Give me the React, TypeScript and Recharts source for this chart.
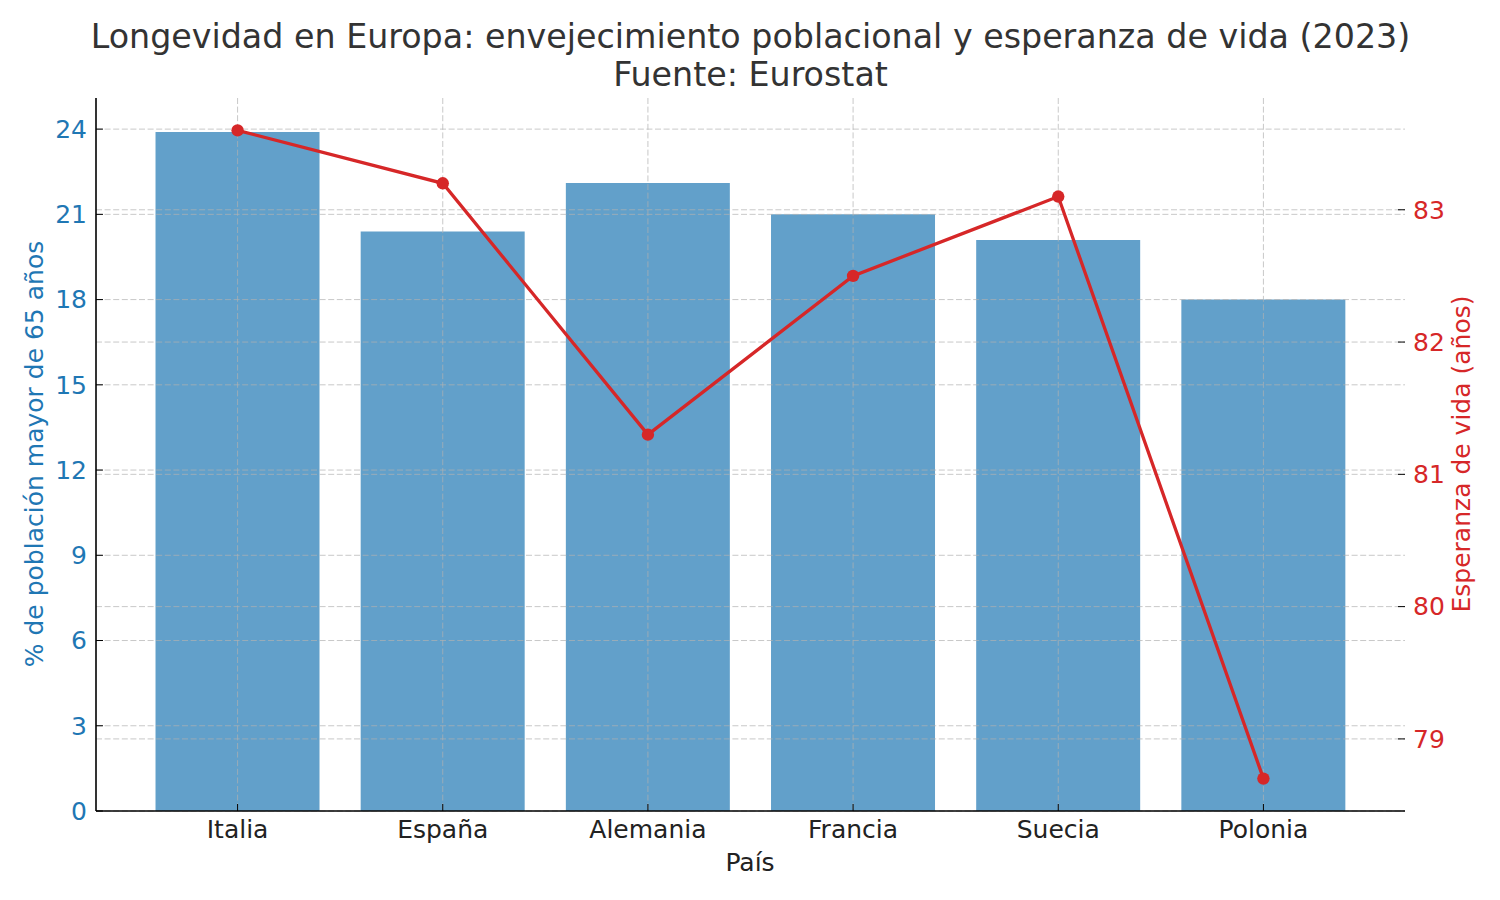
import { ComposedChart, Bar, Line, XAxis, YAxis, CartesianGrid } from 'recharts';

// Eurostat 2023
const countries = ['Italia', 'España', 'Alemania', 'Francia', 'Suecia', 'Polonia'];
const pop65 = [23.9, 20.4, 22.1, 21.0, 20.1, 18.0];
const lifeExp = [83.6, 83.2, 81.3, 82.5, 83.1, 78.7];
const leftTicks = [0, 3, 6, 9, 12, 15, 18, 21, 24];
const rightTicks = [79, 80, 81, 82, 83];

const data = countries.map((pais, i) => ({ pais, pop65: pop65[i], lifeExp: lifeExp[i] }));

// same 5% margins matplotlib puts around the data
const leftMax = Math.max(...pop65) * 1.05;
const leMin = Math.min(...lifeExp);
const leMax = Math.max(...lifeExp);
const leDomain = [leMin - (leMax - leMin) * 0.05, leMax + (leMax - leMin) * 0.05];

const BLUE = '#1f77b4';
const RED = '#d62728';
const INK = '#222222';
const FS = 25;
const gridProps = { stroke: '#b0b0b0', strokeOpacity: 0.7, strokeWidth: 1, strokeDasharray: '6 2.6' };

export default function App() {
  return (
    <div
      style={{
        position: 'absolute',
        left: 0,
        top: 0,
        width: 1500,
        height: 900,
        background: '#fff',
        fontFamily: '"DejaVu Sans", sans-serif',
      }}
    >
      <div
        style={{
          position: 'absolute',
          top: 17.5,
          left: 0,
          width: 1501,
          textAlign: 'center',
          fontSize: 33.3,
          lineHeight: '38.3px',
          color: '#333333',
        }}
      >
        Longevidad en Europa: envejecimiento poblacional y esperanza de vida (2023)
        <br />
        Fuente: Eurostat
      </div>
      <ComposedChart width={1500} height={900} data={data} margin={{ top: 98, right: 0, bottom: 0, left: 0 }}>
        <XAxis
          dataKey="pais"
          height={89}
          padding={{ left: 39, right: 39 }}
          tick={{ fill: INK, fontSize: FS }}
          tickLine={{ stroke: '#000' }}
          tickSize={-7}
          tickMargin={16.5}
          axisLine={{ stroke: '#000', strokeWidth: 1.6 }}
          label={() => (
            <text x={750} y={871} textAnchor="middle" fill={INK} fontSize={FS}>
              País
            </text>
          )}
        />
        <YAxis
          yAxisId="left"
          orientation="left"
          width={96}
          domain={[0, leftMax]}
          allowDataOverflow
          ticks={leftTicks}
          tick={{ fill: BLUE, fontSize: FS }}
          tickLine={{ stroke: '#000' }}
          tickSize={-7}
          tickMargin={16}
          axisLine={{ stroke: '#000', strokeWidth: 1.6 }}
          label={() => (
            <text x={43} y={454} transform="rotate(-90 43 454)" textAnchor="middle" fill={BLUE} fontSize={FS}>
              % de población mayor de 65 años
            </text>
          )}
        />
        <YAxis
          yAxisId="right"
          orientation="right"
          width={95}
          domain={leDomain}
          allowDataOverflow
          ticks={rightTicks}
          tick={{ fill: RED, fontSize: FS }}
          tickLine={{ stroke: '#000' }}
          tickSize={-7}
          tickMargin={15}
          axisLine={false}
          label={() => (
            <text x={1470} y={454} transform="rotate(-90 1470 454)" textAnchor="middle" fill={RED} fontSize={FS}>
              Esperanza de vida (años)
            </text>
          )}
        />
        <Bar yAxisId="left" dataKey="pop65" fill={BLUE} fillOpacity={0.7} barCategoryGap="10%" isAnimationActive={false} />
        <CartesianGrid yAxisId="left" syncWithTicks {...gridProps} zIndex={350} />
        <CartesianGrid yAxisId="right" syncWithTicks vertical={false} {...gridProps} zIndex={350} />
        <Line
          yAxisId="right"
          type="linear"
          dataKey="lifeExp"
          stroke={RED}
          strokeWidth={3.3}
          dot={{ r: 6.2, fill: RED, stroke: RED, strokeWidth: 0 }}
          isAnimationActive={false}
        />
      </ComposedChart>
    </div>
  );
}
